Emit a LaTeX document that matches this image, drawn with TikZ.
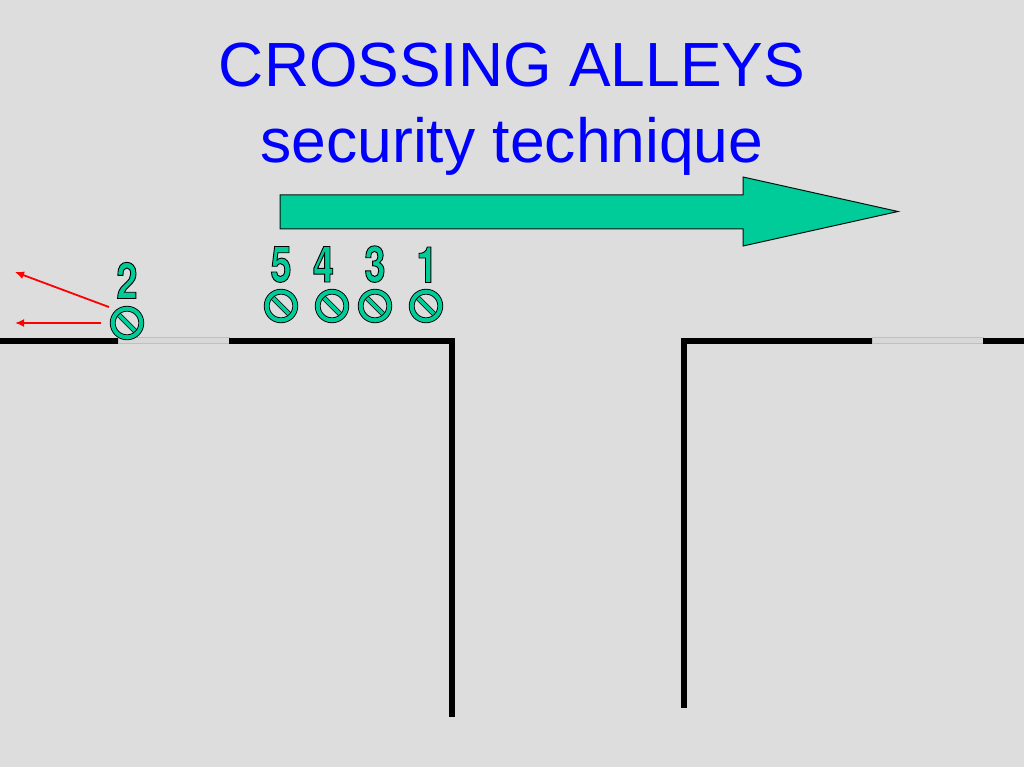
\documentclass[tikz,border=0pt]{standalone}
\usepackage{fontspec}
\setmainfont{Liberation Sans}
\newfontfamily\digitfont[FakeStretch=0.76]{TeX Gyre Heros}
\usepackage{xcolor}
\usetikzlibrary{arrows.meta}
\definecolor{mybg}{RGB}{221,221,221}
\definecolor{mygreen}{RGB}{0,204,153}
\definecolor{myblue}{RGB}{0,0,255}
\definecolor{myred}{RGB}{255,0,0}
\definecolor{mywindow}{RGB}{216,216,216}
\newcommand{\outlined}[1]{\special{pdf:code 2 Tr 0 0 0 RG 0.9 w}#1\special{pdf:code 0 Tr}}
\tikzset{
titletext/.style={anchor=base,inner sep=0pt,text=myblue,font=\fontsize{62.4}{70}\selectfont},
digit/.style={anchor=base,inner sep=0pt,text=mygreen,font=\digitfont\bfseries\fontsize{50}{50}\selectfont},
sign/.style={circle,inner sep=0pt,minimum size=28.6,draw=black,line width=0.9,double=mygreen,double distance=4,
  path picture={\draw[black,line width=5.2] (path picture bounding box.north west) -- (path picture bounding box.south east);
  \draw[mygreen,line width=3.6] (path picture bounding box.north west) -- (path picture bounding box.south east);}},
wall/.style={line width=6,color=black},
window/.style={draw=black!25,fill=mywindow,line width=0.6},
shot/.style={-{Latex[length=9,width=8]},color=myred,line width=1.8},
}
\begin{document}
\begin{tikzpicture}[x=1pt,y=-1pt]
\useasboundingbox (0,0) rectangle (1024,767);
\fill[color=mybg] (0,0) rectangle (1024,767);

\node[titletext] (title1) at (512,87) {CROSSING ALLEYS};
\node[titletext] (title2) at (512,163) {security technique};

% big arrow
\coordinate (P1) at (280,195);
\coordinate (P2) at (743,195);
\coordinate (P3) at (743,177);
\coordinate (P4) at (898,211.5);
\coordinate (P5) at (743,246);
\coordinate (P6) at (743,229);
\coordinate (P7) at (280,229);
\draw[fill=mygreen,line width=1,draw=black!90!mygreen] (P1) -- (P2) -- (P3) -- (P4) -- (P5) -- (P6) -- (P7) -- cycle;

% walls
\coordinate (W1) at (0,340.5);
\coordinate (W2) at (118,340.5);
\coordinate (W3) at (229,340.5);
\coordinate (W4) at (455,340.5);
\coordinate (W5) at (452,340);
\coordinate (W6) at (452,717);
\coordinate (W7) at (684,340);
\coordinate (W8) at (684,708);
\coordinate (W9) at (681,340.5);
\coordinate (W10) at (872,340.5);
\coordinate (W11) at (983,340.5);
\coordinate (W12) at (1024,340.5);
\draw[window] (118,337.5) rectangle (229,343.5);
\draw[window] (872,337.5) rectangle (983,343.5);
\draw[wall] (W1) -- (W2);
\draw[wall] (W3) -- (W4);
\draw[wall] (W5) -- (W6);
\draw[wall] (W7) -- (W8);
\draw[wall] (W9) -- (W10);
\draw[wall] (W11) -- (W12);

% men
\node[sign] (s2) at (127,323) {};
\node[sign] (s5) at (281,306) {};
\node[sign] (s4) at (332,306) {};
\node[sign] (s3) at (375,306) {};
\node[sign] (s1) at (426,306) {};

\node[digit] (d2) at (127,298.5) {\outlined{2}};
\node[digit] (d5) at (281,282) {\outlined{5}};
\node[digit] (d4) at (323.5,282) {\outlined{4}};
\node[digit] (d3) at (375,282) {\outlined{3}};
\node[digit] (d1) at (427,282.5) {\outlined{1}};

% fields of fire
\coordinate (A1) at (15,272);
\coordinate (A2) at (15,323);
\draw[shot] (s2.135) ++(-7.5,-5.5) -- (A1);
\draw[shot] (s2.180) ++(-11,0) -- (A2);
\end{tikzpicture}
\end{document}
